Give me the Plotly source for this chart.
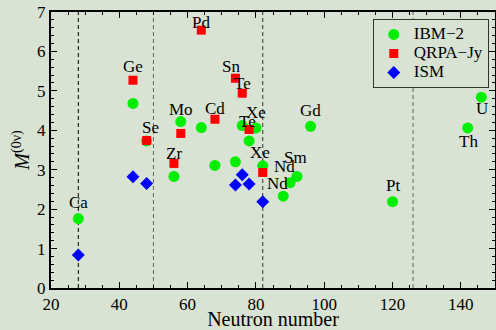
import plotly.graph_objects as go

# ---- data ----
ibm_n = [28, 44, 48, 56, 58, 64, 68, 74, 76, 78, 80, 82, 88, 90, 92, 96, 120, 142, 146]
ibm_m = [1.76, 4.68, 3.73, 2.83, 4.22, 4.07, 3.11, 3.20, 4.12, 3.73, 4.06, 3.10, 2.33, 2.67, 2.83, 4.10, 2.19, 4.06, 4.84]

qrpa_n = [44, 48, 56, 58, 64, 68, 74, 76, 78, 82]
qrpa_m = [5.27, 3.74, 3.16, 3.92, 6.54, 4.28, 5.32, 4.94, 4.02, 2.93]

ism_n = [28, 44, 48, 74, 76, 78, 82]
ism_m = [0.84, 2.82, 2.65, 2.61, 2.87, 2.64, 2.19]

series_names = ["IBM\u22122", "QRPA\u2212Jy", "ISM"]

label_text = ["Ca", "Ge", "Se", "Zr", "Mo", "Pd", "Cd", "Sn", "Te", "Xe", "Te",
              "Xe", "Nd", "Sm", "Nd", "Gd", "Pt", "Th", "U"]
label_x = [28, 44, 49.2, 56, 58, 64, 68, 72.8, 76, 80, 77.6, 81.3, 88.3, 91.5, 86.4, 96.1, 120.1, 142.3, 146.2]
label_y = [2.18, 5.62, 4.06, 3.42, 4.52, 6.74, 4.54, 5.62, 5.18, 4.44, 4.22, 3.43, 3.08, 3.32, 2.66, 4.5, 2.61, 3.72, 4.54]

shell_lines = [28, 50, 82, 126]
shell_colors = ["#000000", "#666666", "#333333", "#666666"]

x_ticks = [20, 40, 60, 80, 100, 120, 140]
y_ticks = [0, 1, 2, 3, 4, 5, 6, 7]

BG = "#d9e3d3"
FONT = "Liberation Serif, Times New Roman, serif"


def big(s):
    return "<span style='font-size:17px'>" + s + "</span>"


fig = go.Figure()
fig.add_trace(go.Scatter(x=ibm_n, y=ibm_m, mode="markers", name=big(series_names[0]),
                         marker=dict(symbol="circle", size=11, color="#00ee00")))
fig.add_trace(go.Scatter(x=qrpa_n, y=qrpa_m, mode="markers", name=big(series_names[1]),
                         marker=dict(symbol="square", size=9, color="#ff0000")))
fig.add_trace(go.Scatter(x=ism_n, y=ism_m, mode="markers", name=big(series_names[2]),
                         marker=dict(symbol="diamond", size=10, color="#0000ff")))

for xv, c in zip(shell_lines, shell_colors):
    fig.add_shape(type="line", x0=xv, x1=xv, y0=0, y1=7, xref="x", yref="y",
                  line=dict(color=c, width=1, dash="4px,3px"), layer="below")

for t, xv, yv in zip(label_text, label_x, label_y):
    fig.add_annotation(x=xv, y=yv, text=t, showarrow=False,
                       font=dict(family=FONT, size=17, color="black"))

fig.update_layout(
    width=496, height=330,
    margin=dict(l=51, r=1, t=12, b=42, autoexpand=False),
    paper_bgcolor=BG, plot_bgcolor=BG,
    font=dict(family=FONT, size=17, color="black"),
    showlegend=True,
    hovermode=False,
    legend=dict(x=0.986, y=0.975, xanchor="right", yanchor="top",
                bgcolor=BG, bordercolor="#333333", borderwidth=1,
                font=dict(family=FONT, size=12, color="black"), itemwidth=30,
                tracegroupgap=0),
)
fig.update_xaxes(range=[20, 150], tickvals=x_ticks, showgrid=False, zeroline=False,
                 automargin=False,
                 showline=True, linecolor="black", linewidth=2, mirror="ticks",
                 ticks="inside", ticklen=6, tickwidth=1, tickcolor="black",
                 tickfont=dict(family=FONT, size=17, color="black"),
                 minor=dict(ticks="inside", ticklen=3, dtick=5, tickcolor="black", showgrid=False),
                 title=dict(text="Neutron number", font=dict(family=FONT, size=20, color="black"), standoff=8))
fig.update_yaxes(range=[0, 7], tickvals=y_ticks, showgrid=False, zeroline=False,
                 automargin=False,
                 showline=True, linecolor="black", linewidth=2, mirror="ticks",
                 ticks="inside", ticklen=6, tickwidth=1, tickcolor="black",
                 tickfont=dict(family=FONT, size=17, color="black"),
                 minor=dict(ticks="inside", ticklen=3, dtick=0.2, tickcolor="black", showgrid=False),
                 title=dict(text="<i>M</i><sup>(0\u03bd)</sup>", font=dict(family=FONT, size=20, color="black"), standoff=2))

fig.write_html("out.html",
               config={"displayModeBar": False},
               post_script="document.body.style.margin='0';document.body.style.padding='0';"
                           "document.body.style.overflow='hidden';"
                           "document.body.style.background='" + BG + "';")
